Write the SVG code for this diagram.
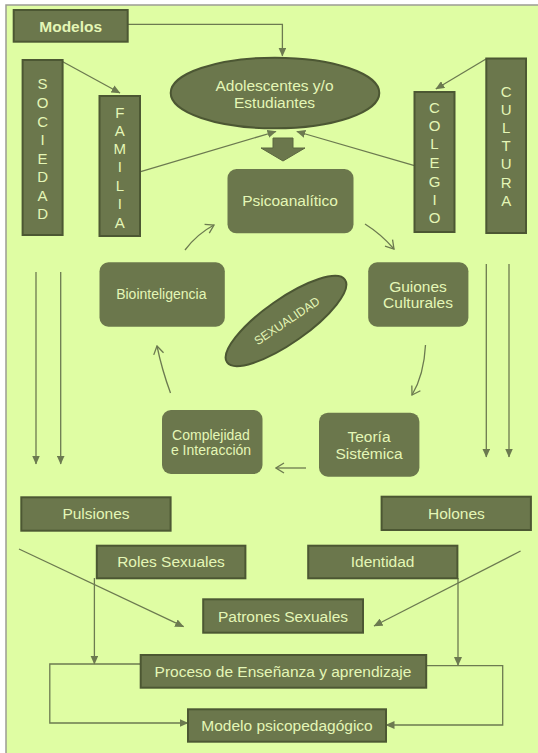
<svg xmlns="http://www.w3.org/2000/svg" width="538" height="753" viewBox="0 0 538 753">
<defs>
<style>
.bg{fill:#dffda3;stroke:#9c9c94;stroke-width:1.5}
.box{fill:#6b774c;stroke:#4c5733;stroke-width:2}
.rbox{fill:#6b774c}
.t{fill:#e4f6b6;font-family:"Liberation Sans",Arial,sans-serif;font-size:15.5px;text-anchor:middle}
.b{font-weight:bold}
.s14{font-size:14px}
.v{font-size:15px}
.c{stroke:#6c7a50;stroke-width:1.3;fill:none}
</style>
<marker id="tri" markerUnits="userSpaceOnUse" markerWidth="9" markerHeight="8" viewBox="0 0 9 8" refX="8.5" refY="4" orient="auto">
<path d="M0,0 L9,4 L0,8 Z" fill="#6c7a50"/>
</marker>
<marker id="vee" markerUnits="userSpaceOnUse" markerWidth="10" markerHeight="12" viewBox="0 0 10 12" refX="9" refY="6" orient="auto">
<path d="M1,1 L9,6 L1,11" fill="none" stroke="#6c7a50" stroke-width="1.3"/>
</marker>
</defs>
<rect class="bg" x="6" y="5" width="545" height="760"/>

<g id="connectors">
<path class="c" d="M128,24.3 H282.4 V56" marker-end="url(#tri)"/>
<path class="c" d="M62.8,61.7 L120,93" marker-end="url(#tri)"/>
<path class="c" d="M486,59 L435.8,89" marker-end="url(#tri)"/>
<path class="c" d="M140.7,171.7 L276,131.5" marker-end="url(#tri)"/>
<path class="c" d="M414.5,165.7 L296.8,131.5" marker-end="url(#tri)"/>
<path class="c" d="M185,250 Q197,234 214,225" marker-end="url(#vee)"/>
<path class="c" d="M365,224 Q381,234 394,249" marker-end="url(#vee)"/>
<path class="c" d="M425.5,345 Q424,375 412,395" marker-end="url(#vee)"/>
<path class="c" d="M306,468 H276" marker-end="url(#vee)"/>
<path class="c" d="M170.5,393 Q162,370 157,346" marker-end="url(#vee)"/>
<path class="c" d="M36,272 V464" marker-end="url(#tri)"/>
<path class="c" d="M60.7,272 V464" marker-end="url(#tri)"/>
<path class="c" d="M486.3,264 V457" marker-end="url(#tri)"/>
<path class="c" d="M509,264 V457" marker-end="url(#tri)"/>
<path class="c" d="M19,549 L183.6,626.7" marker-end="url(#tri)"/>
<path class="c" d="M520.6,551 L374,626" marker-end="url(#tri)"/>
<path class="c" d="M94.4,578 V664" marker-end="url(#tri)"/>
<path class="c" d="M458,578 V665.5" marker-end="url(#tri)"/>
<path class="c" d="M140.7,664 H49.8 V723 H188" marker-end="url(#tri)"/>
<path class="c" d="M426,665.7 H502.7 V725 H386" marker-end="url(#tri)"/>
</g>

<g id="modelos">
<rect class="box" x="13.7" y="10" width="114" height="31.7"/>
<text class="t b" x="70.7" y="31.5">Modelos</text>
</g>

<g id="adolescentes">
<ellipse class="box" cx="275" cy="93" rx="104.3" ry="35.3"/>
<text class="t" x="274.5" y="90.5">Adolescentes y/o</text>
<text class="t" x="274.5" y="108">Estudiantes</text>
</g>

<g id="flecha">
<polygon points="273,138 293,138 293,148 305,148 283,161 261,148 273,148" fill="#6b774c" stroke="#5b673f" stroke-width="1"/>
</g>

<g id="sociedad">
<rect class="box" x="22.6" y="60" width="40" height="175"/>
<text class="t v" x="42.6" y="88.5">S</text>
<text class="t v" x="42.6" y="107.5">O</text>
<text class="t v" x="42.6" y="126.5">C</text>
<text class="t v" x="42.6" y="144.5">I</text>
<text class="t v" x="42.6" y="163.5">E</text>
<text class="t v" x="42.6" y="181.5">D</text>
<text class="t v" x="42.6" y="200.5">A</text>
<text class="t v" x="42.6" y="218.5">D</text>
</g>

<g id="familia">
<rect class="box" x="99.5" y="96" width="40.5" height="140"/>
<text class="t v" x="119.8" y="117.5">F</text>
<text class="t v" x="119.8" y="135.5">A</text>
<text class="t v" x="119.8" y="153.5">M</text>
<text class="t v" x="119.8" y="171.5">I</text>
<text class="t v" x="119.8" y="190.5">L</text>
<text class="t v" x="119.8" y="208.5">I</text>
<text class="t v" x="119.8" y="227.5">A</text>
</g>

<g id="colegio">
<rect class="box" x="414.5" y="92" width="40" height="140"/>
<text class="t v" x="434.5" y="112.5">C</text>
<text class="t v" x="434.5" y="130.5">O</text>
<text class="t v" x="434.5" y="149">L</text>
<text class="t v" x="434.5" y="167.5">E</text>
<text class="t v" x="434.5" y="186.5">G</text>
<text class="t v" x="434.5" y="204.5">I</text>
<text class="t v" x="434.5" y="222.5">O</text>
</g>

<g id="cultura">
<rect class="box" x="486.3" y="58.5" width="39.7" height="174.5"/>
<text class="t v" x="506.2" y="96.5">C</text>
<text class="t v" x="506.2" y="114.5">U</text>
<text class="t v" x="506.2" y="132.5">L</text>
<text class="t v" x="506.2" y="150.5">T</text>
<text class="t v" x="506.2" y="168.5">U</text>
<text class="t v" x="506.2" y="187.5">R</text>
<text class="t v" x="506.2" y="205.5">A</text>
</g>

<g id="psicoanalitico">
<rect class="rbox" x="227.5" y="169" width="126" height="64.3" rx="9"/>
<text class="t" x="290" y="206">Psicoanalítico</text>
</g>

<g id="biointeligencia">
<rect class="rbox" x="99.5" y="262.3" width="125.3" height="64.4" rx="9"/>
<text class="t s14" x="161.3" y="299">Biointeligencia</text>
</g>

<g id="guiones">
<rect class="rbox" x="368.2" y="262.3" width="100.2" height="64.4" rx="9"/>
<text class="t" x="418" y="291.5">Guiones</text>
<text class="t" x="418" y="308">Culturales</text>
</g>

<g id="sexualidad">
<ellipse class="box" cx="286" cy="321" rx="72" ry="22" transform="rotate(-35 286 321)"/>
<text class="t" style="font-size:12px" x="287" y="325" transform="rotate(-34 287 321)">SEXUALIDAD</text>
</g>

<g id="complejidad">
<rect class="rbox" x="162" y="410" width="100.5" height="64" rx="9"/>
<text class="t s14" x="211" y="440">Complejidad</text>
<text class="t s14" x="211" y="455">e Interacción</text>
</g>

<g id="teoria">
<rect class="rbox" x="319" y="412.7" width="100.4" height="64" rx="9"/>
<text class="t" x="369" y="442">Teoría</text>
<text class="t" x="369" y="458.5">Sistémica</text>
</g>

<g id="pulsiones">
<rect class="box" x="21.3" y="497.3" width="149.3" height="33.4"/>
<text class="t" x="96" y="519">Pulsiones</text>
</g>

<g id="holones">
<rect class="box" x="381.6" y="496.7" width="149.3" height="33.3"/>
<text class="t" x="456.4" y="518.5">Holones</text>
</g>

<g id="roles">
<rect class="box" x="96.8" y="545.7" width="148.6" height="32.6"/>
<text class="t" x="171" y="567">Roles Sexuales</text>
</g>

<g id="identidad">
<rect class="box" x="308.2" y="545.7" width="149.2" height="32.6"/>
<text class="t" x="382.6" y="567">Identidad</text>
</g>

<g id="patrones">
<rect class="box" x="203.2" y="599.3" width="159.8" height="33.4"/>
<text class="t" x="283" y="621.5">Patrones Sexuales</text>
</g>

<g id="proceso">
<rect class="box" x="140.7" y="655" width="285.5" height="32.7"/>
<text class="t" x="283" y="677">Proceso de Enseñanza y aprendizaje</text>
</g>

<g id="modelo">
<rect class="box" x="188" y="709.3" width="198" height="32.4"/>
<text class="t" x="287" y="730.5">Modelo psicopedagógico</text>
</g>
</svg>
